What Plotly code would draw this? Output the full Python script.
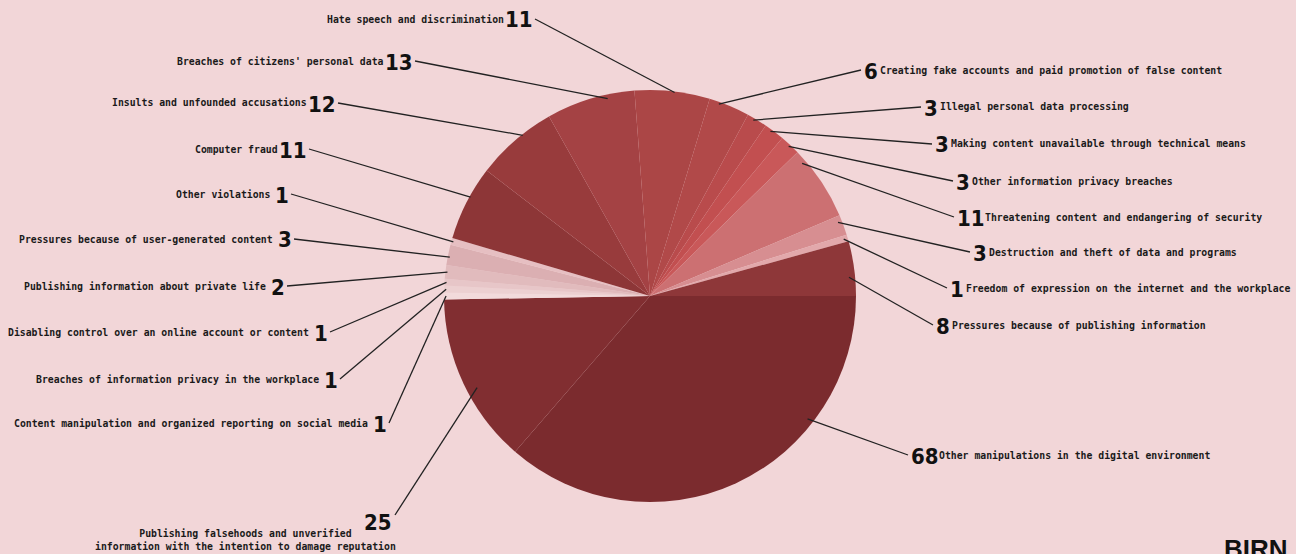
import math
import plotly.graph_objects as go

# ---------------- data ----------------
categories = [
    "Other manipulations in the digital environment",
    "Publishing falsehoods and unverified<br>information with the intention to damage reputation",
    "Content manipulation and organized reporting on social media",
    "Breaches of information privacy in the workplace",
    "Disabling control over an online account or content",
    "Publishing information about private life",
    "Pressures because of user-generated content",
    "Other violations",
    "Computer fraud",
    "Insults and unfounded accusations",
    "Breaches of citizens' personal data",
    "Hate speech and discrimination",
    "Creating fake accounts and paid promotion of false content",
    "Illegal personal data processing",
    "Making content unavailable through technical means",
    "Other information privacy breaches",
    "Threatening content and endangering of security",
    "Destruction and theft of data and programs",
    "Freedom of expression on the internet and the workplace",
    "Pressures because of publishing information",
]
values = [68, 25, 1, 1, 1, 2, 3, 1, 11, 12, 13, 11, 6, 3, 3, 3, 11, 3, 1, 8]

# ---------------- style ----------------
colors = [
    "#7b2b2e", "#812e31", "#f2dadb", "#ecd0d1", "#e7c6c8", "#e1bbbd", "#dbafb2",
    "#e6bfc2", "#8d3637", "#983b3c", "#a44244", "#ab4646", "#b14949", "#b94b4c",
    "#c24f50", "#c95859", "#cc7072", "#d78e91", "#e2a8ab", "#8e3739",
]
BG = "#f2d6d8"
W, H = 1296, 554
CX, CY, R = 650, 296, 206

# label layout: side, number outer edge x (px), number centre y (px), anchor fraction in slice, radius fraction
label_layout = [
    ("R", 912, 456, 0.29, 0.97),
    ("B", 390, 522, 0.44, 0.95),
    ("L", 385, 424, 0.5, 0.99),
    ("L", 336, 380, 0.5, 0.99),
    ("L", 326, 333, 0.5, 0.99),
    ("L", 283, 287, 0.5, 0.99),
    ("L", 290, 240, 0.4, 0.99),
    ("L", 287, 195, 0.5, 0.99),
    ("L", 305, 150, 0.59, 0.995),
    ("L", 334, 104, 0.61, 0.995),
    ("L", 411, 62, 0.69, 0.98),
    ("L", 531, 20, 0.53, 0.995),
    ("R", 865, 71, 0.25, 0.99),
    ("R", 925, 108, 0.35, 0.99),
    ("R", 936, 145, 0.35, 0.99),
    ("R", 957, 182, 0.5, 0.99),
    ("R", 958, 218, 0.15, 0.98),
    ("R", 974, 253, 0.3, 0.98),
    ("R", 951, 289, 0.5, 0.98),
    ("R", 937, 326, 0.65, 0.97),
]

TEXT_FONT = dict(family="DejaVu Sans Mono", size=9.8, color="#1a1a1a")
NUM_FONT = dict(family="DejaVu Sans Condensed, Roboto Condensed, sans-serif",
                size=22, color="#111111")


def px(x):
    return x / W


def py(y):
    return 1 - y / H


fig = go.Figure()
fig.add_trace(go.Pie(
    labels=[c.replace("<br>", " ") for c in categories],
    values=values,
    sort=False,
    direction="clockwise",
    rotation=90,
    marker=dict(colors=colors, line=dict(width=0)),
    textinfo="none",
    hoverinfo="label+value",
    showlegend=False,
    domain=dict(x=[px(CX - R), px(CX + R)], y=[py(CY + R), py(CY - R)]),
))

total = sum(values)
cum = 0
annotations = []
shapes = []
for cat, val, (side, nx, ny, frac, rf) in zip(categories, values, label_layout):
    a0 = cum / total * 2 * math.pi
    a1 = (cum + val) / total * 2 * math.pi
    cum += val
    a = a0 + frac * (a1 - a0)
    ex = CX + R * rf * math.cos(a)
    ey = CY + R * rf * math.sin(a)
    num = str(val)
    n = len(num)
    bold = "<b>%s</b>"
    if side in ("L", "B"):
        sx, sy = nx + 4, ny - 1
        annotations.append(dict(x=px(nx + 4), y=py(ny), text=bold % num, showarrow=False,
                                xanchor="right", yanchor="middle", font=NUM_FONT))
        if side == "L":
            annotations.append(dict(x=px(nx - (10 * n + 5)), y=py(ny - 1), text=bold % cat, showarrow=False,
                                    xanchor="right", yanchor="middle", font=TEXT_FONT))
        else:
            sx, sy = nx + 5, ny - 7
            annotations.append(dict(x=px(245), y=py(540), text=bold % cat.replace("<br>", "</b><br><b>"),
                                    showarrow=False, xanchor="center", yanchor="middle", align="center",
                                    font=TEXT_FONT))
    else:
        sx, sy = nx - 4, ny - 1
        annotations.append(dict(x=px(nx - 3), y=py(ny), text=bold % num, showarrow=False,
                                xanchor="left", yanchor="middle", font=NUM_FONT))
        annotations.append(dict(x=px(nx + 12.5 * n), y=py(ny - 1), text=bold % cat, showarrow=False,
                                xanchor="left", yanchor="middle", font=TEXT_FONT))
    shapes.append(dict(type="line", xref="paper", yref="paper",
                       x0=px(sx), y0=py(sy), x1=px(ex), y1=py(ey),
                       line=dict(color="#222222", width=1.3)))

# BIRN logo
annotations.append(dict(x=px(1290), y=py(532), text="<b>BIRN</b>", showarrow=False,
                        xanchor="right", yanchor="top",
                        font=dict(family="Liberation Sans, Arial, sans-serif", size=26, color="#111111")))

fig.update_layout(
    width=W, height=H,
    margin=dict(l=0, r=0, t=0, b=0),
    paper_bgcolor=BG, plot_bgcolor=BG,
    annotations=annotations,
    shapes=shapes,
)

fig.write_html("out.html",
               config={"displayModeBar": False},
               post_script="document.body.style.margin='0';document.body.style.background='%s';" % BG)
